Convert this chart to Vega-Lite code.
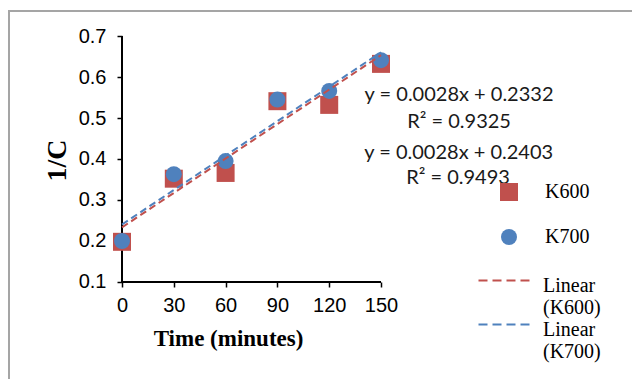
{
  "$schema": "https://vega.github.io/schema/vega-lite/v6.json",
  "width": 630,
  "height": 375,
  "autosize": {"type": "none"},
  "padding": {"left": 9, "top": 11, "right": 0, "bottom": 0},
  "background": "white",
  "config": {
    "view": {"stroke": "#a5a5a5", "strokeWidth": 2},
    "axis": {"grid": false, "domain": false}
  },
  "data": {"values": [{}]},
  "datasets": {
    "points": [
      {"time": 0, "series": "K600", "inv_c": 0.198},
      {"time": 30, "series": "K600", "inv_c": 0.352},
      {"time": 60, "series": "K600", "inv_c": 0.366},
      {"time": 90, "series": "K600", "inv_c": 0.541},
      {"time": 120, "series": "K600", "inv_c": 0.532},
      {"time": 150, "series": "K600", "inv_c": 0.632},
      {"time": 0, "series": "K700", "inv_c": 0.2},
      {"time": 30, "series": "K700", "inv_c": 0.363},
      {"time": 60, "series": "K700", "inv_c": 0.395},
      {"time": 90, "series": "K700", "inv_c": 0.545},
      {"time": 120, "series": "K700", "inv_c": 0.566},
      {"time": 150, "series": "K700", "inv_c": 0.641}
    ],
    "fits": [
      {"time": 0, "fit": "L600", "inv_c": 0.2332},
      {"time": 150, "fit": "L600", "inv_c": 0.6532},
      {"time": 0, "fit": "L700", "inv_c": 0.2403},
      {"time": 150, "fit": "L700", "inv_c": 0.6603}
    ]
  },
  "layer": [
    {
      "mark": {"type": "rule", "color": "#000", "strokeWidth": 2},
      "encoding": {
        "x": {"datum": 0, "type": "quantitative"},
        "y": {"datum": 0.1, "type": "quantitative"},
        "y2": {"datum": 0.7}
      }
    },
    {
      "mark": {"type": "rule", "color": "#000", "strokeWidth": 2},
      "encoding": {
        "y": {"datum": 0.1, "type": "quantitative"},
        "x": {"datum": 0, "type": "quantitative"},
        "x2": {"datum": 150}
      }
    },
    {
      "data": {"name": "points"},
      "mark": {"type": "point", "filled": true, "opacity": 1},
      "encoding": {
        "x": {
          "field": "time", "type": "quantitative",
          "scale": {"domain": [-65.44, 299.4], "nice": false, "zero": false},
          "axis": {
            "values": [0, 30, 60, 90, 120, 150], "format": "d", "offset": -104,
            "domain": false, "grid": false, "ticks": true, "tickColor": "#000", "tickSize": 5, "tickWidth": 1.5,
            "labelFont": "Liberation Sans", "labelFontSize": 20, "labelColor": "#000", "labelPadding": 8,
            "labelFlush": false, "labelOverlap": false,
            "title": "Time (minutes)", "titleFont": "Liberation Serif", "titleFontSize": 23, "titleFontWeight": "bold",
            "titleColor": "#000", "titleX": 219, "titleY": 56, "titleBaseline": "middle", "titleAlign": "center"
          }
        },
        "y": {
          "field": "inv_c", "type": "quantitative",
          "scale": {"domain": [-0.1537, 0.761], "nice": false, "zero": false},
          "axis": {
            "values": [0.1, 0.2, 0.3, 0.4, 0.5, 0.6, 0.7], "format": ".1f", "offset": -113,
            "domain": false, "grid": false, "ticks": true, "tickColor": "#000", "tickSize": 5, "tickWidth": 1.5,
            "labelFont": "Liberation Sans", "labelFontSize": 20, "labelColor": "#000", "labelPadding": 11,
            "labelFlush": false, "labelOverlap": false,
            "title": "1/C", "titleFont": "Liberation Serif", "titleFontSize": 28, "titleFontWeight": "bold",
            "titleColor": "#000", "titleX": -65, "titleY": 149, "titleAngle": 270, "titleBaseline": "middle", "titleAlign": "center"
          }
        },
        "color": {
          "field": "series", "type": "nominal",
          "scale": {"domain": ["K600", "K700"], "range": ["#C0504D", "#4F81BD"]},
          "legend": {"orient": "none", "legendX": 490, "legendY": 171, "title": null, "direction": "vertical", "padding": 0,
            "symbolSize": 150, "symbolStrokeWidth": 0, "labelFont": "Liberation Serif", "labelFontSize": 20,
            "labelColor": "#000", "labelOffset": 26, "rowPadding": 25}
        },
        "shape": {
          "field": "series", "type": "nominal",
          "scale": {"domain": ["K600", "K700"], "range": ["square", "circle"]},
          "legend": {"orient": "none", "legendX": 490, "legendY": 171, "title": null, "direction": "vertical", "padding": 0,
            "symbolSize": 150, "symbolStrokeWidth": 0, "labelFont": "Liberation Serif", "labelFontSize": 20,
            "labelColor": "#000", "labelOffset": 26, "rowPadding": 25}
        },
        "size": {
          "field": "series", "type": "nominal",
          "scale": {"domain": ["K600", "K700"], "range": [324, 256]},
          "legend": null
        }
      }
    },
    {
      "data": {"name": "fits"},
      "mark": {"type": "line", "strokeDash": [7, 4], "strokeWidth": 2},
      "encoding": {
        "x": {"field": "time", "type": "quantitative"},
        "y": {"field": "inv_c", "type": "quantitative"},
        "stroke": {
          "field": "fit", "type": "nominal",
          "scale": {"domain": ["L600", "L700"], "range": ["#C0504D", "#4F81BD"]},
          "legend": {"orient": "none", "legendX": 485, "legendY": 263, "title": null, "direction": "vertical", "padding": 0,
            "symbolType": "M-2.5,-0.5H2.5", "symbolSize": 484, "symbolStrokeWidth": 2, "symbolDash": [9, 5],
            "symbolFillColor": "transparent",
            "labelFont": "Liberation Serif", "labelFontSize": 20, "labelColor": "#000", "labelOffset": 25, "rowPadding": -4,
            "labelExpr": "datum.label == 'L600' ? ['Linear', '(K600)'] : ['Linear', '(K700)']"}
        }
      }
    },
    {
      "mark": {"type": "text", "font": "Lato", "fontSize": 20, "color": "#1a1a1a", "align": "center", "baseline": "middle"},
      "encoding": {
        "x": {"datum": 195.2, "type": "quantitative"},
        "y": {"datum": 0.556, "type": "quantitative"},
        "text": {"value": "y = 0.0028x + 0.2332"}
      }
    },
    {
      "mark": {"type": "text", "font": "Lato", "fontSize": 20, "color": "#1a1a1a", "align": "center", "baseline": "middle"},
      "encoding": {
        "x": {"datum": 195.2, "type": "quantitative"},
        "y": {"datum": 0.491, "type": "quantitative"},
        "text": {"value": "R² = 0.9325"}
      }
    },
    {
      "mark": {"type": "text", "font": "Lato", "fontSize": 20, "color": "#1a1a1a", "align": "center", "baseline": "middle"},
      "encoding": {
        "x": {"datum": 195.0, "type": "quantitative"},
        "y": {"datum": 0.415, "type": "quantitative"},
        "text": {"value": "y = 0.0028x + 0.2403"}
      }
    },
    {
      "mark": {"type": "text", "font": "Lato", "fontSize": 20, "color": "#1a1a1a", "align": "center", "baseline": "middle"},
      "encoding": {
        "x": {"datum": 194.6, "type": "quantitative"},
        "y": {"datum": 0.353, "type": "quantitative"},
        "text": {"value": "R² = 0.9493"}
      }
    }
  ]
}
